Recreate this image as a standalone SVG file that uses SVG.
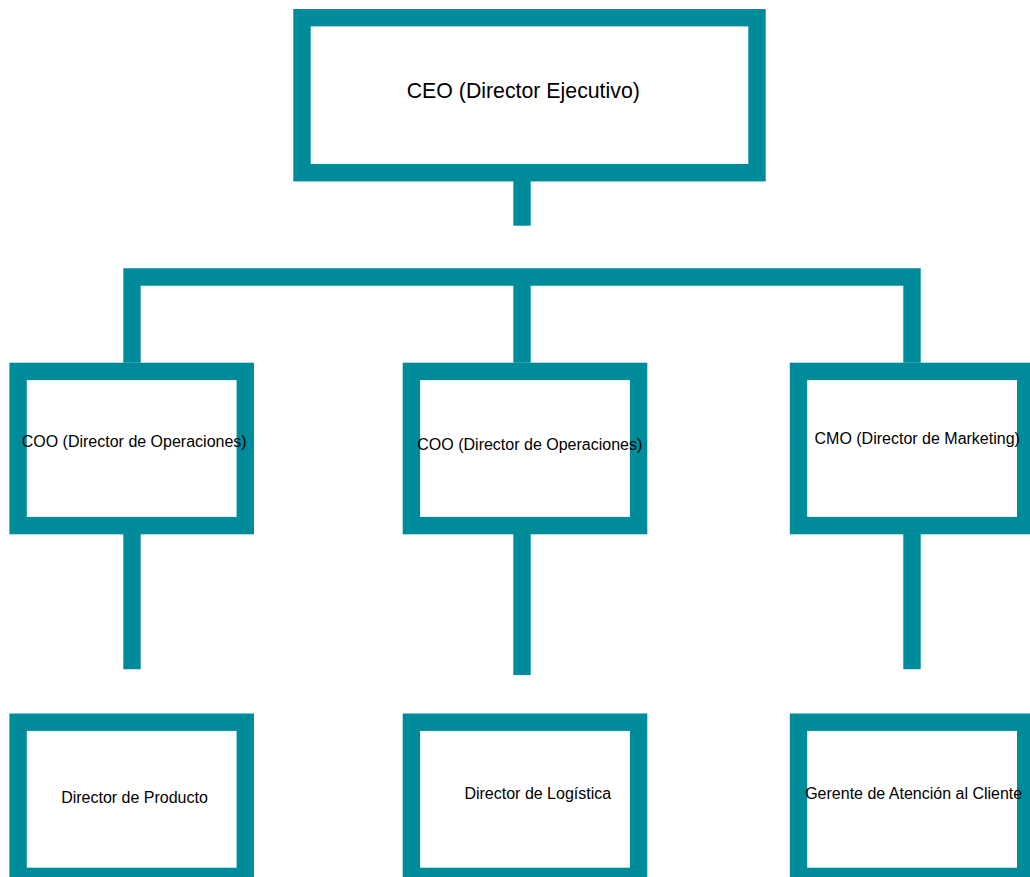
<svg xmlns="http://www.w3.org/2000/svg" width="1030" height="877" viewBox="0 0 1030 877">
<style>
.box{fill:#ffffff;stroke:#008B9B;stroke-width:17.4}
.ln{stroke:#008B9B;stroke-width:17.4;fill:none;stroke-linecap:butt}
.t{font-family:"Liberation Sans",Arial,sans-serif;font-size:16px;fill:#000000;text-anchor:middle}
.big{font-size:21.3px}
</style>
<rect width="1030" height="877" fill="#ffffff"/>
<g id="connectors">
<line class="ln" x1="522" y1="181" x2="522" y2="225.7"/>
<polyline class="ln" points="132,362.7 132,277 912,277 912,362.7"/>
<line class="ln" x1="522" y1="277" x2="522" y2="362.7"/>
<line class="ln" x1="132" y1="534" x2="132" y2="669.3"/>
<line class="ln" x1="522" y1="534" x2="522" y2="675"/>
<line class="ln" x1="912" y1="534" x2="912" y2="669.3"/>
</g>
<g id="ceo">
<rect class="box" x="302" y="17.7" width="455" height="155"/>
<text class="t big" x="523.3" y="98">CEO (Director Ejecutivo)</text>
</g>
<g id="coo1">
<rect class="box" x="18.1" y="371.4" width="227.2" height="154.2"/>
<text class="t" x="134.2" y="446.5">COO (Director de Operaciones)</text>
</g>
<g id="coo2">
<rect class="box" x="411.4" y="371.4" width="227.2" height="154.2"/>
<text class="t" x="529.8" y="450">COO (Director de Operaciones)</text>
</g>
<g id="cmo">
<rect class="box" x="798.5" y="371.4" width="227.2" height="154.2"/>
<text class="t" x="917.2" y="444">CMO (Director de Marketing)</text>
</g>
<g id="producto">
<rect class="box" x="18.1" y="722.2" width="227.2" height="154.2"/>
<text class="t" x="134.5" y="802.5">Director de Producto</text>
</g>
<g id="logistica">
<rect class="box" x="411.4" y="722.2" width="227.2" height="154.2"/>
<text class="t" x="537.8" y="799.3">Director de Logística</text>
</g>
<g id="atencion">
<rect class="box" x="798.5" y="722.2" width="227.2" height="154.2"/>
<text class="t" x="913.7" y="799.3">Gerente de Atención al Cliente</text>
</g>
</svg>
